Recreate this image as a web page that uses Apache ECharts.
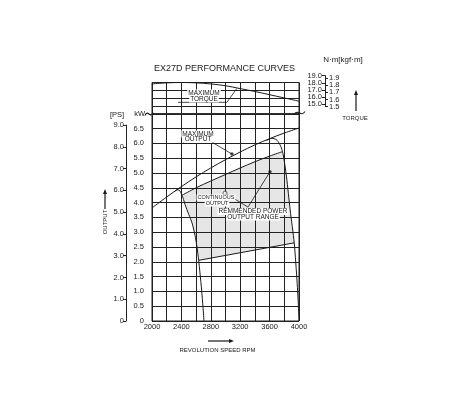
<!DOCTYPE html>
<html><head><meta charset="utf-8">
<script src="https://cdn.jsdelivr.net/npm/echarts@6/dist/echarts.min.js"></script>
<style>html,body{margin:0;padding:0;background:#fff}#c{width:468px;height:411px}</style>
</head><body><div id="c"></div>
<script>
// ---- data ----
const rpmLabels = [2000, 2400, 2800, 3200, 3600, 4000];
const psTicks = [0, 1, 2, 3, 4, 5, 6, 7, 8, 9];
const nmTicks = [15, 16, 17, 18, 19];
const kgfTicks = [1.5, 1.6, 1.7, 1.8, 1.9];

const maxOutputRpm = [2000, 2200, 2400, 2600, 2800, 3000, 3200, 3400, 3600, 3800, 4000];
const maxOutputKw  = [3.82, 4.19, 4.54, 4.87, 5.17, 5.45, 5.71, 5.95, 6.16, 6.35, 6.52];

const continuousRpm = [2410, 2600, 2800, 3000, 3200, 3400, 3600, 3772];
const continuousKw  = [4.25, 4.5, 4.73, 4.95, 5.17, 5.38, 5.57, 5.72];

const lowDroopRpm = [2300, 2340, 2370, 2400, 2430, 2450, 2500, 2545, 2585, 2612, 2635, 2653, 2675, 2694, 2707];
const lowDroopKw  = [4.36, 4.43, 4.42, 4.3, 4.1, 3.93, 3.6, 3.31, 2.9, 2.5, 2.05, 1.62, 1.05, 0.47, 0];

const highDroopRpm = [3560, 3630, 3690, 3732, 3760, 3786, 3830, 3880, 3935, 3975, 4003];
const highDroopKw  = [6.1, 6.17, 6.13, 6.0, 5.85, 5.61, 4.87, 3.75, 2.64, 1.28, 0];

const rangeBottomRpm = [2636, 3935];
const rangeBottomKw  = [2.05, 2.64];

const torqueRpm = [2000, 2200, 2400, 2600, 2800, 3000, 3200, 3400, 3600, 3800, 4000];
const torqueNm  = [17.85, 18.0, 18.05, 18.0, 17.85, 17.6, 17.2, 16.8, 16.35, 15.9, 15.45];

// ---- helpers ----
const FONT = '"Liberation Sans", Arial, sans-serif';
const INK = '#1a1a1a';
const pair = (xs, ys) => xs.map((x, i) => [x, ys[i]]);
const NM_PER_KGF = 9.80665;
const NM_PX = 7.18;          // px per N·m on the torque scale
const NM_TOP_Y = 75.7;       // y of 19.0 N·m
const yOfNm = nm => NM_TOP_Y + (19 - nm) * NM_PX;

function buildRange() {
  const top = pair(continuousRpm, continuousKw);
  const endRpm = continuousRpm[continuousRpm.length - 1];
  const right = pair(highDroopRpm, highDroopKw).filter(p => p[0] > endRpm && p[1] > rangeBottomKw[1]);
  const bottom = [[rangeBottomRpm[1], rangeBottomKw[1]], [rangeBottomRpm[0], rangeBottomKw[0]]];
  let peak = 0;
  lowDroopKw.forEach((v, i) => { if (v > lowDroopKw[peak]) peak = i; });
  const left = pair(lowDroopRpm, lowDroopKw)
    .filter((p, i) => i > peak && p[1] > rangeBottomKw[0] && p[1] < continuousKw[0])
    .reverse();
  return top.concat(right, bottom, left);
}
const rangePoly = buildRange();

const leaders = {
  torque: [[2354, 15.29], [3020, 15.29], [3152, 17.21]],
  maxOut: [[2422, 6.02], [2830, 6.02], [3088, 5.64]],
  cont:   [[2993, 4.32], [3306, 3.85]],
  range:  [[3306, 3.85], [3605, 5.04]]
};

const gridLine = { show: true, lineStyle: { color: '#222', width: 1 } };
const lblBase = { fontSize: 7.5, color: '#222', fontFamily: FONT };

function curve(data, xi, yi, extra) {
  return Object.assign({
    type: 'line', data: data, xAxisIndex: xi, yAxisIndex: yi,
    symbol: 'none', smooth: 0.35, clip: false,
    lineStyle: { color: INK, width: 1 }, silent: true, animation: false, z: 3
  }, extra || {});
}
function leader(data, xi, yi) {
  return curve(data, xi, yi, { smooth: false, lineStyle: { color: INK, width: 0.8 } });
}
function arrow(x1, y1, x2, y2) {
  const ang = Math.atan2(y2 - y1, x2 - x1);
  const L = 5, W = 2;
  const bx = x2 - L * Math.cos(ang), by = y2 - L * Math.sin(ang);
  const px = -Math.sin(ang) * W, py = Math.cos(ang) * W;
  return {
    type: 'group', children: [
      { type: 'line', shape: { x1: x1, y1: y1, x2: bx, y2: by }, style: { stroke: INK, lineWidth: 1.2 } },
      { type: 'polygon', shape: { points: [[x2, y2], [bx + px, by + py], [bx - px, by - py]] }, style: { fill: INK } }
    ]
  };
}
function txt(t, x, y, size, extra) {
  return {
    type: 'text', x: x, y: y, z: 10,
    style: Object.assign({ text: t, font: size + 'px ' + FONT, fill: INK, align: 'center', verticalAlign: 'middle' }, extra || {})
  };
}
function tilde(x1, y, x2) {
  const w = x2 - x1;
  return { type: 'bezierCurve', z: 10, shape: { x1: x1, y1: y + 1.5, cpx1: x1 + w * 0.4, cpy1: y - 5, cpx2: x1 + w * 0.6, cpy2: y + 5, x2: x2, y2: y - 1.5 }, style: { stroke: INK, lineWidth: 1.2, fill: null } };
}

// ---- grids & axes ----
const grids = [
  { left: 152, right: 169, top: 113.8, bottom: 90, show: true, borderColor: '#222', borderWidth: 1 },
  { left: 152, right: 169, top: 82.5, height: 31.3, show: true, borderColor: '#222', borderWidth: 1 },
  { left: 126, width: 10, top: 125.1, bottom: 90 }
];
const xAxes = [
  { gridIndex: 0, type: 'value', min: 2000, max: 4000, interval: 200,
    axisLine: { show: false }, axisTick: { show: false }, splitLine: gridLine,
    axisLabel: Object.assign({ formatter: v => rpmLabels.includes(v) ? String(v) : '', margin: 2 }, lblBase) },
  { gridIndex: 1, type: 'value', min: 2000, max: 4000, interval: 200,
    axisLine: { show: false }, axisTick: { show: false }, axisLabel: { show: false }, splitLine: gridLine },
  { gridIndex: 2, type: 'value', show: false }
];
const yAxes = [
  { gridIndex: 0, type: 'value', min: 0, max: 7, interval: 0.5,
    axisLine: { show: false }, axisTick: { show: false }, splitLine: gridLine,
    axisLabel: Object.assign({ formatter: v => v >= 7 ? '' : (v === 0 ? '0' : v.toFixed(1)), margin: 8 }, lblBase) },
  { gridIndex: 1, type: 'value', min: 0, max: 4, interval: 1,
    axisLine: { show: false }, axisTick: { show: false }, axisLabel: { show: false }, splitLine: gridLine },
  { gridIndex: 1, type: 'value', min: 13.69, max: 18.05, show: false },
  { gridIndex: 2, type: 'value', position: 'left', min: 0, max: 9, interval: 1,
    axisLine: { show: true, lineStyle: { color: '#222', width: 1 } },
    axisTick: { show: true, length: 3, lineStyle: { color: '#222' } }, splitLine: { show: false },
    axisLabel: Object.assign({ formatter: v => psTicks.includes(v) ? (v === 0 ? '0' : v.toFixed(1)) : '', margin: 2 }, lblBase) }
];
// torque scale: dual N·m / kgf·m bracket, split into interleaved sets so every label is kept
function addScale(values, toNm, inside) {
  const sets = [values.filter((v, i) => i % 2 === 0), values.filter((v, i) => i % 2 === 1)];
  sets.forEach(set => {
    const lo = set[0], hi = set[set.length - 1];
    const step = set.length > 1 ? set[1] - set[0] : 1;
    const gi = grids.length;
    grids.push({ left: 325, width: 10, top: yOfNm(toNm(hi)), height: (toNm(hi) - toNm(lo)) * NM_PX });
    xAxes.push({ gridIndex: gi, type: 'value', show: false });
    yAxes.push({ gridIndex: gi, type: 'value', position: 'left', min: lo, max: hi, interval: step,
      axisLine: { show: true, lineStyle: { color: '#222', width: 1 } },
      axisTick: { show: true, inside: inside, length: 3, lineStyle: { color: '#222' } }, splitLine: { show: false },
      axisLabel: Object.assign({ inside: inside, formatter: v => Number(v).toFixed(1), margin: inside ? 4 : 3 }, lblBase) });
  });
}
addScale(nmTicks, v => v, false);
addScale(kgfTicks, v => v * NM_PER_KGF, true);

const chart = echarts.init(document.getElementById('c'), null, { renderer: 'canvas' });

const option = {
  animation: false,
  backgroundColor: '#fff',
  grid: grids,
  xAxis: xAxes,
  yAxis: yAxes,
  series: [
    {
      type: 'custom', coordinateSystem: 'cartesian2d', xAxisIndex: 0, yAxisIndex: 0,
      data: [[3000, 3]], z: -1, silent: true, clip: false,
      renderItem: function (params, api) {
        return { type: 'polygon', shape: { points: rangePoly.map(p => api.coord(p)) }, style: { fill: '#e6e6e6' } };
      }
    },
    curve(pair(torqueRpm, torqueNm), 1, 2),
    curve(pair(maxOutputRpm, maxOutputKw), 0, 0),
    curve(pair(continuousRpm, continuousKw), 0, 0),
    curve(pair(lowDroopRpm, lowDroopKw), 0, 0, { smooth: 0.25 }),
    curve(pair(highDroopRpm, highDroopKw), 0, 0, { smooth: 0.25 }),
    curve(pair(rangeBottomRpm, rangeBottomKw), 0, 0, { smooth: false }),
    leader(leaders.torque, 1, 2),
    leader(leaders.maxOut, 0, 0),
    leader(leaders.cont, 0, 0),
    leader(leaders.range, 0, 0),
    { type: 'scatter', xAxisIndex: 0, yAxisIndex: 0, silent: true, z: 5,
      data: [leaders.maxOut[2], leaders.range[1]], symbol: 'circle', symbolSize: 3.5,
      itemStyle: { color: INK } },
    { type: 'scatter', xAxisIndex: 0, yAxisIndex: 0, silent: true, z: 5,
      data: [leaders.cont[0]], symbol: 'circle', symbolSize: 4,
      itemStyle: { color: '#fff', borderColor: INK, borderWidth: 0.8 } }
  ],
  graphic: [
    txt('EX27D PERFORMANCE CURVES', 224.5, 68.5, 9),
    txt('N·m[kgf·m]', 343, 60, 8),
    txt('[PS]', 117, 115, 7.5),
    txt('kW', 145, 114, 7.5, { align: 'right' }),
    tilde(145, 114, 153),
    tilde(294, 113, 305),
    txt('TORQUE', 355, 118, 6),
    arrow(356, 111, 356, 90),
    { type: 'text', x: 105, y: 222, rotation: Math.PI / 2, z: 10,
      style: { text: 'OUTPUT', font: '6px ' + FONT, fill: INK, align: 'center', verticalAlign: 'middle' } },
    arrow(105, 209, 105, 189),
    arrow(208, 341, 234, 341),
    txt('REVOLUTION SPEED RPM', 217.5, 350, 6),
    txt('MAXIMUM', 204, 93, 6.5, { backgroundColor: '#fff', padding: [0, 1] }),
    txt('TORQUE', 204, 99, 6.5, { backgroundColor: '#fff', padding: [0, 1] }),
    txt('MAXIMUM', 198, 134, 6.5, { backgroundColor: '#fff', padding: [0, 1] }),
    txt('OUTPUT', 198, 139.5, 6.5, { backgroundColor: '#fff', padding: [0, 1] }),
    txt('CONTINUOUS', 216, 197.5, 5.5, { backgroundColor: '#fff', padding: [0, 1] }),
    txt('OUTPUT', 217, 203.5, 5.5, { backgroundColor: '#fff', padding: [0, 1] }),
    txt('REMMENDED POWER', 253, 211.5, 6.5, { backgroundColor: '#fff', padding: [0, 1] }),
    txt('OUTPUT RANGE', 253, 217, 6.5, { backgroundColor: '#fff', padding: [0, 1] })
  ]
};
chart.setOption(option);
</script>
</body></html>
